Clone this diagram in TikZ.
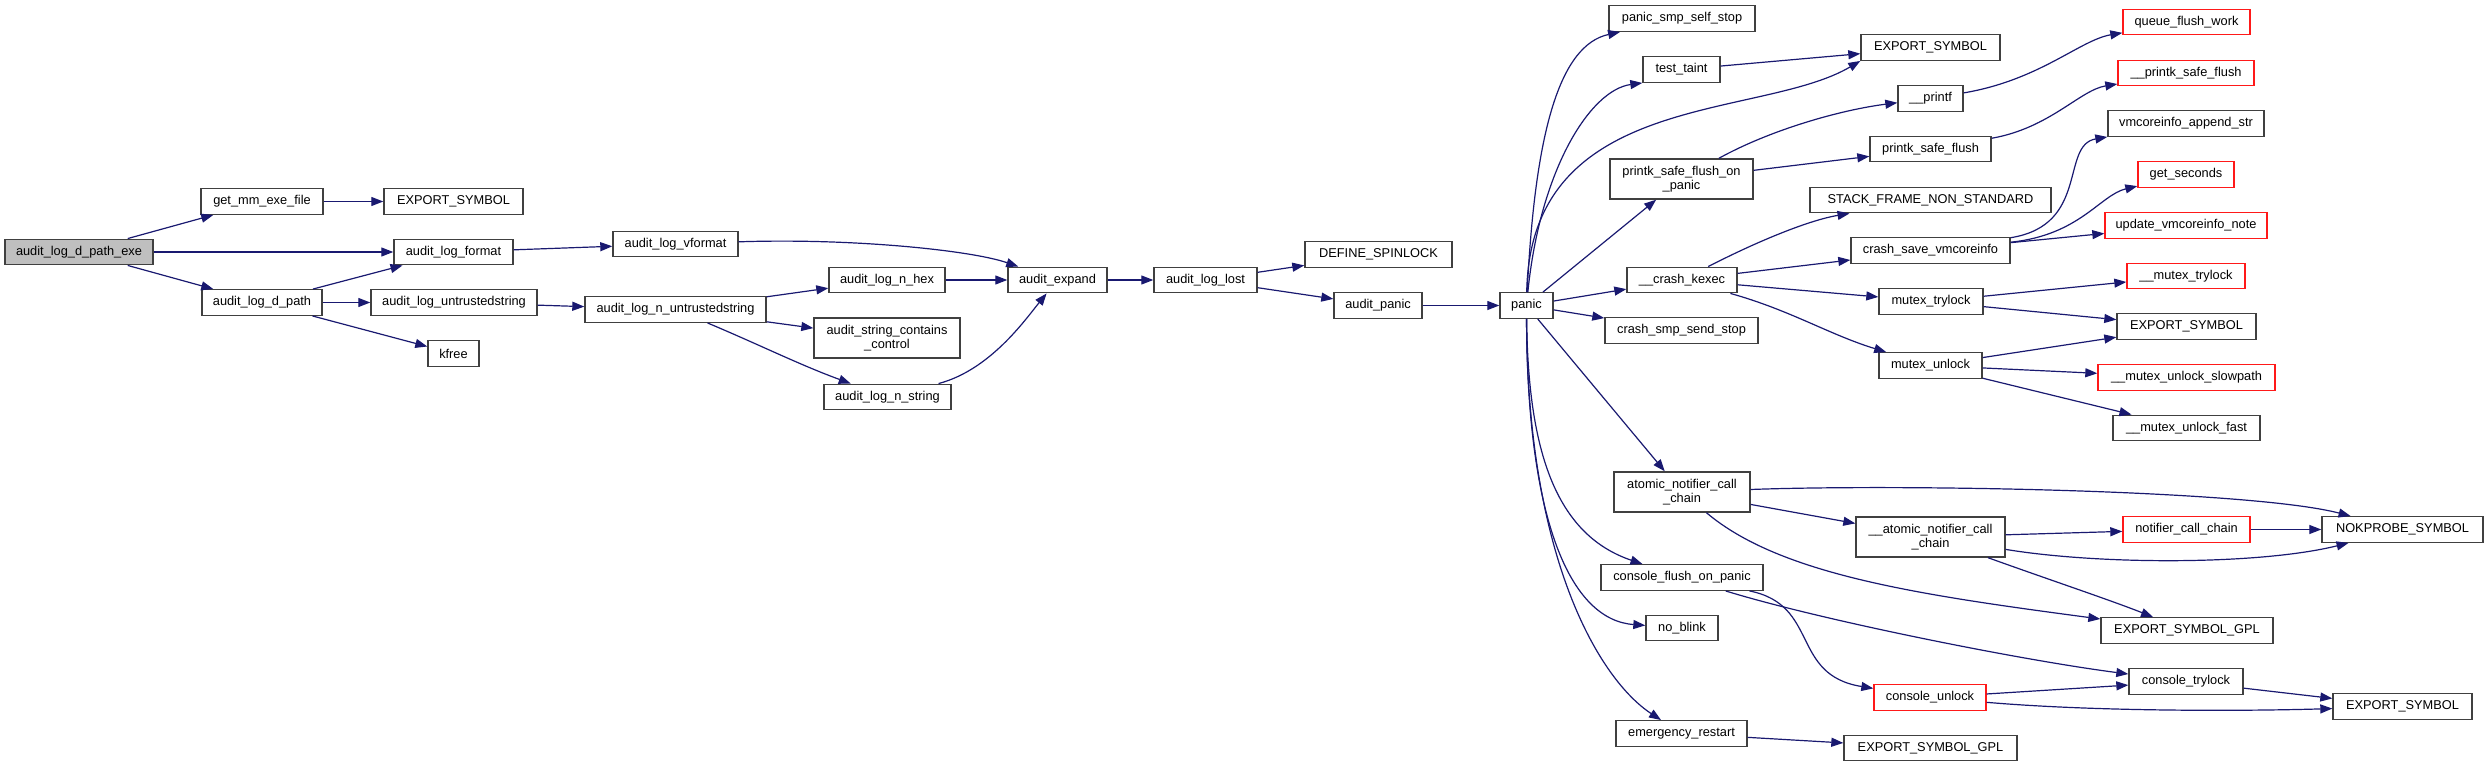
\documentclass[tikz,border=0pt]{standalone}
\usepackage{fontspec}
\setmainfont{Liberation Sans}
\usetikzlibrary{arrows.meta}
\definecolor{edgeblue}{RGB}{25,25,112}
\definecolor{rootgray}{RGB}{191,191,191}
\begin{document}
\begin{tikzpicture}[x=1pt,y=-1pt,
  fn/.style={draw=black!75, line width=1.4pt, fill=white, minimum height=25.5pt, inner sep=0pt, align=center, font=\fontsize{12.8}{14.5}\selectfont},
  twoline/.style={fn, minimum height=40pt},
  missing/.style={draw=red!90},
  call/.style={draw=edgeblue, line width=1.2pt, -{Triangle[length=12pt,width=9pt]}, fill=none}]
\useasboundingbox (0,0) rectangle (2488,767);
\node[fn, fill=rootgray, minimum width=148pt] (exe) at (79,252) {audit\_log\_d\_path\_exe};
\node[fn, minimum width=122pt] (getmm) at (262,201.5) {get\_mm\_exe\_file};
\node[fn, minimum width=139pt] (expa) at (453.5,201.5) {EXPORT\_SYMBOL};
\node[fn, minimum width=119pt] (fmt) at (453.5,252) {audit\_log\_format};
\node[fn, minimum width=120pt] (dpath) at (262,302.5) {audit\_log\_d\_path};
\node[fn, minimum width=166pt] (untr) at (454,302.5) {audit\_log\_untrustedstring};
\node[fn, minimum width=51pt] (kfree) at (453.5,353.5) {kfree};
\node[fn, minimum width=125pt] (vfmt) at (675.5,244) {audit\_log\_vformat};
\node[fn, minimum width=181pt] (nuntr) at (675.5,309.5) {audit\_log\_n\_untrustedstring};
\node[fn, minimum width=116pt] (nhex) at (887,280) {audit\_log\_n\_hex};
\node[twoline, minimum width=146pt] (ctrl) at (887,338) {audit\_string\_contains\\\_control};
\node[fn, minimum width=127pt] (nstr) at (887.5,397) {audit\_log\_n\_string};
\node[fn, minimum width=99pt] (expand) at (1057.5,280) {audit\_expand};
\node[fn, minimum width=103pt] (lost) at (1205.5,280) {audit\_log\_lost};
\node[fn, minimum width=147pt] (spin) at (1378.5,254.5) {DEFINE\_SPINLOCK};
\node[fn, minimum width=88pt] (apanic) at (1378,305.5) {audit\_panic};
\node[fn, minimum width=53pt] (panic) at (1526.5,305.5) {panic};
\node[fn, minimum width=146pt] (selfstop) at (1682,18.5) {panic\_smp\_self\_stop};
\node[fn, minimum width=77pt] (taint) at (1681.5,69.5) {test\_taint};
\node[fn, minimum width=139pt] (expb) at (1930.5,47.5) {EXPORT\_SYMBOL};
\node[twoline, minimum width=143pt] (pfpanic) at (1681.5,179) {printk\_safe\_flush\_on\\\_panic};
\node[fn, minimum width=65pt] (printf) at (1930.5,98.5) {\_\_printf};
\node[fn, minimum width=121pt] (pflush) at (1930.5,149) {printk\_safe\_flush};
\node[fn, missing, minimum width=127pt] (qflush) at (2186.5,22) {queue\_flush\_work};
\node[fn, missing, minimum width=136pt] (upflush) at (2186,73) {\_\_printk\_safe\_flush};
\node[fn, minimum width=156pt] (append) at (2186,123.5) {vmcoreinfo\_append\_str};
\node[fn, missing, minimum width=96pt] (getsec) at (2186,174.5) {get\_seconds};
\node[fn, missing, minimum width=162pt] (updnote) at (2186,225.5) {update\_vmcoreinfo\_note};
\node[fn, minimum width=241pt] (stack) at (1930.5,200) {STACK\_FRAME\_NON\_STANDARD};
\node[fn, minimum width=159pt] (savevmc) at (1930.5,250.5) {crash\_save\_vmcoreinfo};
\node[fn, minimum width=110pt] (kexec) at (1682,280) {\_\_crash\_kexec};
\node[fn, minimum width=104pt] (mtry) at (1931,301.5) {mutex\_trylock};
\node[fn, missing, minimum width=118pt] (umtry) at (2186,276) {\_\_mutex\_trylock};
\node[fn, minimum width=139pt] (expc) at (2186.5,326.5) {EXPORT\_SYMBOL};
\node[fn, minimum width=153pt] (sendstop) at (1681.5,330.5) {crash\_smp\_send\_stop};
\node[fn, minimum width=103pt] (munlock) at (1930.5,365.5) {mutex\_unlock};
\node[fn, missing, minimum width=177pt] (slowpath) at (2186.5,377.5) {\_\_mutex\_unlock\_slowpath};
\node[fn, minimum width=147pt] (fast) at (2186.5,428) {\_\_mutex\_unlock\_fast};
\node[twoline, minimum width=136pt] (atomic) at (1682,492) {atomic\_notifier\_call\\\_chain};
\node[twoline, minimum width=149pt] (uatomic) at (1930.5,537) {\_\_atomic\_notifier\_call\\\_chain};
\node[fn, missing, minimum width=127pt] (notif) at (2186.5,529.5) {notifier\_call\_chain};
\node[fn, minimum width=161pt] (nokprobe) at (2402.5,529.5) {NOKPROBE\_SYMBOL};
\node[fn, minimum width=172pt] (gpla) at (2187,630.5) {EXPORT\_SYMBOL\_GPL};
\node[fn, minimum width=162pt] (cfop) at (1682,577.5) {console\_flush\_on\_panic};
\node[fn, minimum width=72pt] (noblink) at (1682,628) {no\_blink};
\node[fn, missing, minimum width=112pt] (cunlock) at (1930,697.5) {console\_unlock};
\node[fn, minimum width=114pt] (ctry) at (2186,681.5) {console\_trylock};
\node[fn, minimum width=139pt] (expd) at (2402.5,706.5) {EXPORT\_SYMBOL};
\node[fn, minimum width=131pt] (emerg) at (1681.5,733.5) {emergency\_restart};
\node[fn, minimum width=173pt] (gplb) at (1930.5,748) {EXPORT\_SYMBOL\_GPL};
\draw[call] (exe) -- (getmm);
\draw[call] (exe) -- (fmt);
\draw[call] (exe) -- (dpath);
\draw[call] (getmm) -- (expa);
\draw[call] (fmt) -- (vfmt);
\draw[call] (dpath) -- (fmt);
\draw[call] (dpath) -- (untr);
\draw[call] (dpath) -- (kfree);
\draw[call] (untr) -- (nuntr);
\draw[call] (vfmt) .. controls (850,238) and (970,250) .. (expand);
\draw[call] (nuntr) -- (nhex);
\draw[call] (nuntr) -- (ctrl);
\draw[call] (nuntr) .. controls (760,345) and (800,365) .. (nstr);
\draw[call] (nhex) -- (expand);
\draw[call] (nstr) .. controls (990,370) and (1025,320) .. (expand);
\draw[call] (expand) -- (lost);
\draw[call] (lost) -- (spin);
\draw[call] (lost) -- (apanic);
\draw[call] (apanic) -- (panic);
\draw[call] (panic) .. controls (1535,130) and (1560,45) .. (selfstop);
\draw[call] (panic) .. controls (1540,170) and (1590,90) .. (taint.south west);
\draw[call] (panic) .. controls (1530,90) and (1760,120) .. (expb.south west);
\draw[call] (panic) -- (pfpanic);
\draw[call] (panic) -- (kexec);
\draw[call] (panic) -- (sendstop);
\draw[call] (panic) -- (atomic);
\draw[call] (panic) .. controls (1528,460) and (1560,536) .. (cfop);
\draw[call] (panic) .. controls (1527,520) and (1570,620) .. (noblink);
\draw[call] (panic) .. controls (1527,560) and (1600,680) .. (emerg);
\draw[call] (taint) -- (expb);
\draw[call] (pfpanic) .. controls (1770,130) and (1840,110) .. (printf);
\draw[call] (pfpanic) -- (pflush);
\draw[call] (printf) .. controls (2040,80) and (2080,40) .. (qflush);
\draw[call] (pflush) .. controls (2050,128) and (2080,90) .. (upflush);
\draw[call] (kexec) .. controls (1760,240) and (1810,220) .. (stack);
\draw[call] (kexec) -- (savevmc);
\draw[call] (kexec) -- (mtry);
\draw[call] (kexec) .. controls (1790,310) and (1830,335) .. (munlock);
\draw[call] (savevmc) .. controls (2090,225) and (2060,145) .. (append);
\draw[call] (savevmc) .. controls (2080,235) and (2100,195) .. (getsec);
\draw[call] (savevmc) -- (updnote);
\draw[call] (mtry) -- (umtry);
\draw[call] (mtry) -- (expc);
\draw[call] (munlock) -- (expc);
\draw[call] (munlock) -- (slowpath);
\draw[call] (munlock) -- (fast);
\draw[call] (atomic) .. controls (1900,484) and (2250,490) .. (nokprobe);
\draw[call] (atomic) -- (uatomic);
\draw[call] (atomic) .. controls (1780,575) and (1920,595) .. (gpla);
\draw[call] (uatomic) -- (notif);
\draw[call] (uatomic) .. controls (2100,565) and (2260,565) .. (nokprobe);
\draw[call] (uatomic) .. controls (2050,580) and (2110,600) .. (gpla);
\draw[call] (notif) -- (nokprobe);
\draw[call] (cfop) .. controls (1820,620) and (2020,660) .. (ctry);
\draw[call] (cfop) .. controls (1820,605) and (1790,675) .. (cunlock);
\draw[call] (cunlock) -- (ctry);
\draw[call] (cunlock) .. controls (2100,712) and (2250,711) .. (expd);
\draw[call] (ctry) -- (expd);
\draw[call] (emerg) -- (gplb);
\end{tikzpicture}
\end{document}
